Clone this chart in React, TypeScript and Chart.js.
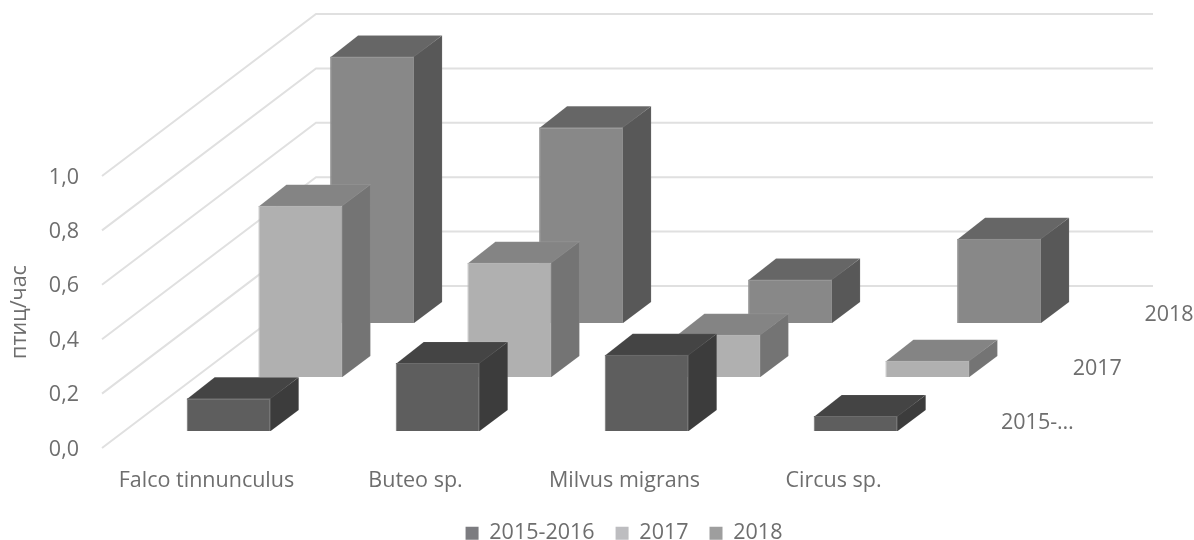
import React, { useEffect, useRef } from "react";
import { Chart, registerables } from "chart.js";

Chart.register(...registerables);

const categories = ["Falco tinnunculus", "Buteo sp.", "Milvus migrans", "Circus sp."];
const seriesNames = ["2015-2016", "2017", "2018"];
const depthLabels = ["2015-…", "2017", "2018"];
const values2015 = [0.12, 0.25, 0.28, 0.055];
const values2017 = [0.63, 0.42, 0.155, 0.06];
const values2018 = [0.98, 0.72, 0.16, 0.31];
const yTicks = [0, 0.2, 0.4, 0.6, 0.8, 1];

const frontColors = ["#5e5e5e", "#b0b0b0", "#888888"];
const edgeColors = ["#6c6c6c", "#bcbcbc", "#949494"];
const topColors = ["#444444", "#848484", "#666666"];
const sideColors = ["#3c3c3c", "#747474", "#585858"];
const swatchColors = ["#7c7c80", "#bdbdc0", "#9e9e9e"];
const textColor = "#6e6e6e";
const gridColor = "#e0e0e0";
const faceEdge = "rgba(255,255,255,0.08)";
const fontFamily = "Open Sans";
const fontSize = 21.5;

// projection of the 3D box
const rowStepX = 71.7;
const rowStepY = 54;
const rowStartX = 22.2;
const rowStartY = 17;
const boxDepthX = 28;
const boxDepthY = 21;
const wallDx = 214;
const wallDy = 162;
const wallRight = 1153;

const chartBottom = 448;
const chartTop = 176;
const chartLeft = 102;
const chartRight = 938;

const depth3d = {
  id: "depth3d",
  afterLayout(chart: any) {
    if (chart.legend) {
      chart.legend.left += 27;
      chart.legend.right += 27;
      chart.legend.top = 540 - chart.legend.height + 14;
    }
    // category labels are clipped to their scale's box: let them reach their full height
    chart.scales.x.bottom = 515;
  },
  beforeDatasetsDraw(chart: any) {
    const { ctx, scales } = chart;
    const y = scales.y;
    const left = scales.x.left;
    ctx.save();
    ctx.strokeStyle = gridColor;
    ctx.lineWidth = 2;
    yTicks.forEach((t) => {
      const py = y.getPixelForValue(t);
      ctx.beginPath();
      ctx.moveTo(left, py);
      ctx.lineTo(left + wallDx, py - wallDy);
      ctx.lineTo(wallRight, py - wallDy);
      ctx.stroke();
    });
    ctx.fillStyle = textColor;
    ctx.font = `${fontSize}px "${fontFamily}"`;
    ctx.textAlign = "left";
    ctx.textBaseline = "middle";
    depthLabels.forEach((label, i) => {
      ctx.fillText(
        label,
        scales.x.right + 63 + i * rowStepX,
        y.getPixelForValue(0) - 25 - i * rowStepY
      );
    });
    ctx.restore();
  },
  beforeDatasetDraw(chart: any, args: any) {
    const { ctx } = chart;
    const i = args.index;
    ctx.save();
    ctx.translate(rowStartX + i * rowStepX, -(rowStartY + i * rowStepY));
    ctx.strokeStyle = faceEdge;
    ctx.lineWidth = 1;
    args.meta.data.forEach((el: any) => {
      const { x, y, base, width } = el.getProps(["x", "y", "base", "width"], true);
      const l = x - width / 2;
      const r = x + width / 2;
      ctx.fillStyle = topColors[i];
      ctx.beginPath();
      ctx.moveTo(l, y + 1);
      ctx.lineTo(l + boxDepthX, y - boxDepthY);
      ctx.lineTo(r + boxDepthX, y - boxDepthY);
      ctx.lineTo(r, y + 1);
      ctx.closePath();
      ctx.fill();
      ctx.stroke();
      ctx.fillStyle = sideColors[i];
      ctx.beginPath();
      ctx.moveTo(r - 1, y);
      ctx.lineTo(r, y);
      ctx.lineTo(r + boxDepthX, y - boxDepthY);
      ctx.lineTo(r + boxDepthX, base - boxDepthY);
      ctx.lineTo(r, base);
      ctx.lineTo(r - 1, base);
      ctx.closePath();
      ctx.fill();
      ctx.stroke();
    });
  },
  afterDatasetDraw(chart: any) {
    chart.ctx.restore();
  },
};

export default function App() {
  const ref = useRef<HTMLCanvasElement>(null);
  useEffect(() => {
    const seriesValues = [values2015, values2017, values2018];
    const chart = new Chart(ref.current as HTMLCanvasElement, {
      type: "bar",
      data: {
        labels: categories,
        datasets: seriesNames.map((name, i) => ({
          label: name,
          data: seriesValues[i],
          backgroundColor: frontColors[i],
          borderColor: edgeColors[i],
          borderWidth: 1,
          clip: false,
          grouped: false,
          categoryPercentage: 1,
          barPercentage: 84 / 209,
        })),
      },
      plugins: [depth3d],
      options: {
        responsive: false,
        animation: false,
        layout: { padding: { top: chartTop, left: 0, right: 0, bottom: 0 } },
        plugins: {
          tooltip: { enabled: false },
          legend: {
            position: "bottom",
            labels: {
              boxWidth: 13,
              boxHeight: 13,
              padding: 21,
              color: textColor,
              font: { family: fontFamily, size: fontSize },
              generateLabels: () =>
                seriesNames.map((name, i) => ({
                  text: name,
                  fillStyle: swatchColors[i],
                  strokeStyle: swatchColors[i],
                  lineWidth: 0,
                  fontColor: textColor,
                  datasetIndex: i,
                })),
            },
          },
        },
        scales: {
          x: {
            grid: { display: false, drawTicks: false },
            border: { display: false },
            ticks: {
              color: textColor,
              font: { family: fontFamily, size: fontSize },
              padding: 20,
              maxRotation: 0,
              autoSkip: false,
            },
            afterFit(scale: any) {
              scale.height = 540 - chartBottom - scale.chart.legend.height;
            },
          },
          y: {
            min: 0,
            max: 1,
            grid: { display: false, drawTicks: false },
            border: { display: false },
            afterBuildTicks(scale: any) {
              scale.ticks = yTicks.map((value) => ({ value }));
            },
            ticks: {
              color: textColor,
              font: { family: fontFamily, size: fontSize },
              padding: 23,
              labelOffset: 1.5,
              callback: (v: any) => Number(v).toFixed(1).replace(".", ","),
            },
            title: {
              display: true,
              text: "птиц/час",
              color: textColor,
              font: { family: fontFamily, size: fontSize },
              padding: { top: 7, bottom: 0 },
            },
            afterFit(scale: any) {
              scale.width = chartLeft;
            },
          },
          depth: {
            type: "linear",
            axis: "y",
            position: "right",
            grid: { display: false, drawTicks: false },
            border: { display: false },
            ticks: { display: false },
            afterFit(scale: any) {
              scale.width = 1194 - chartRight;
            },
          },
        },
      },
    } as any);
    return () => chart.destroy();
  }, []);
  return (
    <div style={{ position: "absolute", left: 0, top: 0, width: 1194, height: 540, background: "#ffffff" }}>
      <canvas ref={ref} width={1194} height={540} style={{ display: "block" }} />
    </div>
  );
}
